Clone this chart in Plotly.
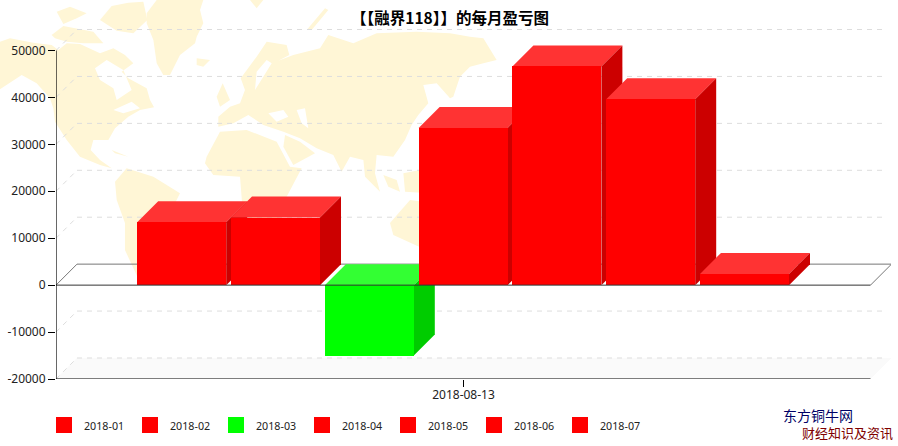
import plotly.graph_objects as go

# ---- data ----
months = ["2018-01", "2018-02", "2018-03", "2018-04", "2018-05", "2018-06", "2018-07"]
profits = [13400, 14400, -15000, 33500, 46600, 39600, 2400]
y_ticks = [-20000, -10000, 0, 10000, 20000, 30000, 40000, 50000]
date_label = "2018-08-13"
title_text = "【【融界118】】的每月盈亏图"

# ---- geometry of the frame in page pixels ----
W, H = 898, 446
PL, PR, PT, PB = 56.0, 891.0, 29.0, 379.0   # plot box incl. 3D depth
PITCH = 93.8            # px per category
BAR_W = 89.0            # px
DEPTH = 21.0            # px
X0_PX = 181.7           # centre of first bar
Y_SCALE = (379.0 - 50.5) / 70000.0   # px per value unit

xr = [(PL - X0_PX) / PITCH, (PR - X0_PX) / PITCH]
yr = [-20000, -20000 + (PB - PT) / Y_SCALE]
dx = DEPTH / PITCH
dy = DEPTH / Y_SCALE
half = BAR_W / PITCH / 2
x_left = xr[0]
x_front_right = (870.5 - X0_PX) / PITCH
x_mid = (463.5 - X0_PX) / PITCH


def px(x):
    return (x - PL) / (PR - PL)


def py(y):
    return (PB - y) / (PB - PT)


# ---- decorative world map outline, in 1/3 page pixels ----
LAND = "#FFF6D6"
hudson = [(285,205),(320,180),(370,210),(395,270),(350,300),(340,265),(300,240)]
lakes = [(340,330),(395,305),(420,325),(370,340)]
baltic = [(770,215),(800,180),(815,190),(790,230),(765,270)]
black_sea = [(805,340),(850,330),(865,350),(830,365)]
caspian = [(890,330),(915,325),(925,385),(905,370)]
america_n = [(0,125),(30,115),(100,128),(155,135),(175,150),(200,130),(240,132),(300,160),(340,145),(375,165),(400,190),(365,215),(385,235),(440,265),(450,300),(462,322),(420,330),(385,350),(345,385),(325,420),(280,420),(272,450),(300,480),(335,505),(300,495),(240,470),(200,420),(165,365),(160,325),(150,295),(110,250),(65,225),(0,268)]
eurasia = [(655,350),(690,320),(720,310),(735,270),(722,235),(770,170),(800,125),(860,135),(868,165),(835,182),(880,165),(960,145),(985,105),(1060,130),(1130,100),(1250,95),(1350,100),(1410,110),(1450,115),(1490,180),(1450,190),(1410,200),(1380,230),(1360,290),(1350,295),(1310,250),(1270,255),(1285,310),(1255,345),(1235,375),(1215,420),(1180,470),(1130,465),(1125,520),(1140,575),(1095,530),(1090,480),(1050,470),(1025,515),(1000,465),(950,445),(900,415),(850,395),(790,375),(745,345),(700,370),(655,380)]
land = [
    [america_n, hudson, lakes],
    [eurasia, baltic, black_sea, caspian],
    [[(170,35),(210,20),(260,40),(230,55),(190,72)]],
    [[(155,105),(190,78),(280,95),(310,130),(250,130),(200,125),(165,115)]],
    [[(300,60),(335,18),(385,8),(430,5),(442,60),(400,100),(350,92)]],
    [[(440,40),(470,0),(610,0),(600,30),(610,70),(590,110),(585,130),(540,165),(510,225),(490,225),(470,190),(460,120),(440,70)]],
    [[(590,175),(630,180),(610,200),(590,195)]],
    [[(750,0),(790,0),(770,25)]],
    [[(920,90),(975,25),(985,30),(935,90)]],
    [[(650,290),(668,250),(690,300),(660,320)]],
    [[(335,450),(385,470),(345,460)]],
    [[(620,470),(660,395),(740,390),(830,425),(870,500),(905,505),(860,590),(800,640),(860,660),(800,760),(770,800),(730,660),(720,530),(640,525),(615,490)]],
    [[(855,405),(900,425),(945,460),(880,495),(850,440)]],
    [[(345,545),(380,505),(460,530),(540,580),(500,660),(440,760),(412,830),(375,750),(375,669),(350,600)]],
    [[(1150,525),(1190,540),(1200,575),(1165,560)]],
    [[(1210,520),(1260,510),(1290,580),(1215,575)]],
    [[(1170,669),(1230,600),(1300,610),(1340,700),(1300,760),(1180,705)]],
]


def path(rings):
    return " ".join("M" + " L".join(f"{px(a / 3):.4f},{py(b / 3):.4f}" for a, b in ring) + " Z"
                    for ring in rings)


shapes = [dict(type="path", path=path(rings), xref="paper", yref="paper",
               fillcolor=LAND, line=dict(width=0), layer="below") for rings in land]

fig = go.Figure()


def add_line(xs, ys, color, width=1, dash=None, axes=("x", "y")):
    fig.add_trace(go.Scatter(x=xs, y=ys, mode="lines", xaxis=axes[0], yaxis=axes[1],
                             line=dict(color=color, width=width, dash=dash),
                             hoverinfo="skip", showlegend=False))


def add_poly(xs, ys, color):
    fig.add_trace(go.Scatter(x=xs + xs[:1], y=ys + ys[:1], mode="lines", fill="toself",
                             fillcolor=color, line=dict(width=0), hoverinfo="skip",
                             showlegend=False))


# floor
add_poly([x_left, x_front_right, x_front_right + dx, x_left + dx],
         [y_ticks[0], y_ticks[0], y_ticks[0] + dy, y_ticks[0] + dy], "#FAFAFA")

# walls: dashed grid on back wall and side wall
grid_right = (883.0 - X0_PX) / PITCH
for t in y_ticks:
    if t == 0:
        continue
    add_line([x_left + dx, grid_right], [t + dy, t + dy], "#DDDDDD", 1, "5px,5px")
    add_line([x_left, x_left + dx], [t, t + dy], "#DDDDDD", 1, "5px,5px")

# zero plane
add_line([x_left, x_left + dx, x_front_right + dx, x_front_right],
         [0, dy, dy, 0], "#777777", 1)

# 3D faces of each bar
for i, v in enumerate(profits):
    top = max(v, 0)
    bot = min(v, 0)
    l, r = i - half, i + half
    top_c, side_c = ("#FF3333", "#CC0000") if v >= 0 else ("#33FF33", "#00CC00")
    add_poly([l, r, r + dx, l + dx], [top, top, top + dy, top + dy], top_c)
    add_poly([r, r + dx, r + dx, r], [top, top + dy, bot + dy, bot], side_c)

# bar fronts, on an overlaid pair of axes so they sit above the faces
fig.add_trace(go.Bar(x=list(range(len(months))), y=profits, width=BAR_W / PITCH,
                     xaxis="x2", yaxis="y2",
                     marker=dict(color=["#FF0000" if v >= 0 else "#00FF00" for v in profits],
                                 line=dict(width=0)),
                     customdata=months, hovertemplate="%{customdata}: %{y}<extra></extra>",
                     showlegend=False))

# axis lines and front zero line
ax2 = ("x2", "y2")
add_line([x_left, x_front_right], [0, 0], "#333333", 1, axes=ax2)
add_line([x_left, x_front_right], [y_ticks[0], y_ticks[0]], "#000000", 1.2, axes=ax2)
add_line([x_left, x_left], [y_ticks[0], y_ticks[-1]], "#000000", 1.2, axes=ax2)

# legend and text
annotations = [
    dict(text=f"<b>{title_text}</b>", x=px(449.5), y=py(17), xref="paper", yref="paper",
         xanchor="center", yanchor="middle", showarrow=False,
         font=dict(family="Noto Sans CJK SC", size=15.5, color="#000000")),
    dict(text="东方铜牛网", x=px(818), y=py(415), xref="paper", yref="paper", showarrow=False,
         xanchor="center", yanchor="middle",
         font=dict(family="Noto Sans CJK SC", size=14, color="#000066")),
    dict(text="财经知识及资讯", x=px(847.5), y=py(432), xref="paper", yref="paper", showarrow=False,
         xanchor="center", yanchor="middle",
         font=dict(family="Noto Sans CJK SC", size=13, color="#800000")),
]
for i, (m, v) in enumerate(zip(months, profits)):
    x = 56 + 86 * i
    shapes.append(dict(type="rect", xref="paper", yref="paper",
                       x0=px(x), x1=px(x + 16), y0=py(433), y1=py(417),
                       fillcolor="#FF0000" if v >= 0 else "#00FF00", line=dict(width=0)))
    annotations.append(dict(text=m, x=px(x + 26), y=py(426), xref="paper", yref="paper",
                            xanchor="left", yanchor="middle", showarrow=False,
                            font=dict(family="Noto Sans", size=10.7, color="#222222")))

fig.update_layout(
    width=W, height=H, autosize=False,
    margin=dict(l=PL, r=W - PR, t=PT, b=H - PB, pad=0, autoexpand=False),
    paper_bgcolor="white", plot_bgcolor="rgba(0,0,0,0)",
    showlegend=False, shapes=shapes, annotations=annotations, bargap=0,
    xaxis=dict(range=xr, showgrid=False, zeroline=False, showline=False, automargin=False,
               tickmode="array", tickvals=[x_mid], ticktext=[date_label],
               ticks="outside", ticklen=7, tickcolor="#000000", tickwidth=1,
               ticklabelstandoff=-2,
               tickfont=dict(family="Noto Sans", size=12, color="#222222")),
    yaxis=dict(range=yr, showgrid=False, zeroline=False, showline=False, automargin=False,
               tickmode="array", tickvals=y_ticks, ticktext=[str(t) for t in y_ticks],
               ticks="outside", ticklen=7, tickcolor="#000000", tickwidth=1,
               tickfont=dict(family="Noto Sans", size=12, color="#222222")),
    xaxis2=dict(range=xr, overlaying="x", visible=False, automargin=False),
    yaxis2=dict(range=yr, overlaying="y", visible=False, automargin=False),
)

fig.write_html("out.html", config=dict(displayModeBar=False),
               post_script="document.body.style.margin='0';document.body.style.overflow='hidden';")
